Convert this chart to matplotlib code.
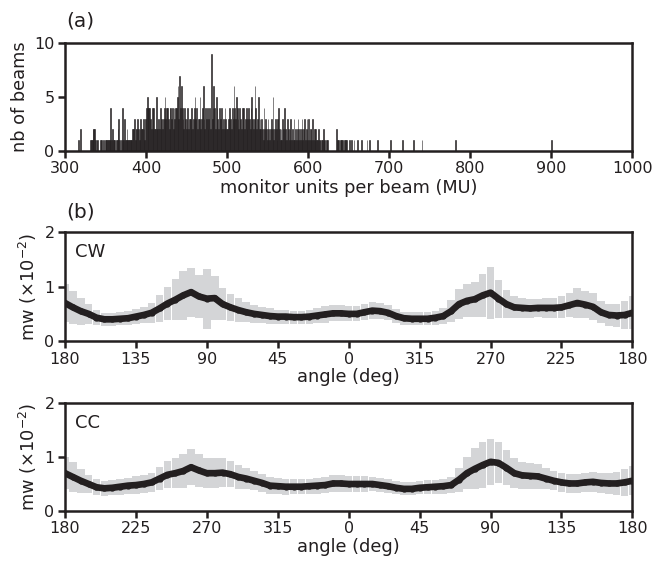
import numpy as np
import matplotlib.pyplot as plt

# histogram (a): counts per MU, one row per 10 MU starting at 310
mu_start = 310
mu_counts = [
    0, 0, 0, 0, 0, 0, 1, 0, 0, 2,   # 310
    0, 0, 0, 0, 0, 0, 0, 0, 0, 0,   # 320
    0, 1, 1, 1, 2, 2, 2, 1, 0, 1,   # 330
    1, 0, 0, 1, 0, 1, 0, 1, 0, 1,   # 340
    1, 1, 1, 1, 1, 1, 4, 1, 2, 1,   # 350
    1, 1, 0, 1, 1, 2, 3, 1, 0, 1,   # 360
    4, 1, 1, 3, 1, 1, 2, 1, 1, 1,   # 370
    1, 1, 1, 2, 2, 3, 1, 2, 2, 3,   # 380
    2, 1, 2, 3, 2, 2, 3, 2, 1, 3,   # 390
    4, 5, 4, 4, 4, 3, 2, 4, 2, 4,   # 400
    2, 2, 5, 2, 2, 3, 2, 4, 2, 3,   # 410
    2, 3, 4, 5, 3, 4, 4, 3, 2, 4,   # 420
    4, 3, 4, 2, 4, 3, 4, 4, 5, 6,   # 430
    3, 7, 4, 6, 4, 3, 2, 4, 3, 2,   # 440
    3, 4, 2, 3, 3, 2, 4, 2, 3, 4,   # 450
    5, 3, 4, 2, 3, 3, 5, 2, 3, 4,   # 460
    6, 3, 2, 4, 3, 4, 2, 3, 4, 2,   # 470
    9, 3, 4, 6, 4, 2, 5, 4, 3, 2,   # 480
    4, 3, 2, 4, 2, 3, 2, 4, 3, 2,   # 490
    2, 3, 4, 2, 3, 2, 4, 3, 6, 4,   # 500
    3, 5, 4, 3, 2, 4, 3, 2, 4, 3,   # 510
    4, 2, 3, 4, 2, 3, 4, 3, 2, 4,   # 520
    5, 3, 2, 3, 6, 4, 2, 3, 5, 2,   # 530
    3, 2, 3, 2, 1, 4, 2, 3, 2, 1,   # 540
    3, 2, 1, 2, 3, 2, 5, 1, 2, 3,   # 550
    2, 1, 3, 4, 2, 1, 2, 1, 3, 2,   # 560
    4, 1, 2, 1, 3, 2, 1, 2, 3, 1,   # 570
    2, 1, 3, 1, 2, 1, 2, 3, 1, 2,   # 580
    1, 2, 3, 1, 2, 3, 1, 2, 3, 1,   # 590
    3, 1, 2, 2, 1, 3, 1, 2, 1, 2,   # 600
    1, 1, 2, 1, 1, 0, 1, 1, 2, 1,   # 610
    1, 0, 1, 1, 0, 0, 0, 0, 0, 0,   # 620
    0, 0, 0, 0, 2, 0, 1, 1, 0, 1,   # 630
    1, 1, 1, 0, 1, 0, 1, 1, 0, 0,   # 640
    1, 0, 0, 1, 0, 0, 1, 0, 0, 0,   # 650
    1, 0, 0, 0, 0, 1, 0, 0, 0, 0,   # 660
    0, 0, 1, 0, 0, 1, 0, 0, 0, 0,   # 670
    0, 0, 0, 0, 0, 1, 0, 0, 0, 0,   # 680
]
outlier_mu = [701, 716, 729, 740, 781, 900]
outlier_counts = [1, 1, 1, 1, 1, 1]

# angle profiles, every 5 deg along the rotation (0..360)
pos = np.arange(0, 361, 5)
cw_mean = [0.70, 0.62, 0.55, 0.50, 0.43, 0.40, 0.40, 0.41, 0.42, 0.45,
           0.48, 0.52, 0.60, 0.69, 0.76, 0.84, 0.90, 0.82, 0.78, 0.79,
           0.68, 0.62, 0.57, 0.53, 0.50, 0.48, 0.46, 0.45, 0.45, 0.44,
           0.44, 0.45, 0.47, 0.49, 0.51, 0.51, 0.50, 0.50, 0.53, 0.56,
           0.55, 0.52, 0.46, 0.42, 0.41, 0.41, 0.41, 0.43, 0.46, 0.55,
           0.68, 0.74, 0.77, 0.84, 0.89, 0.78, 0.68, 0.62, 0.61, 0.60,
           0.61, 0.61, 0.61, 0.62, 0.66, 0.70, 0.67, 0.63, 0.53, 0.48,
           0.47, 0.48, 0.52]
cw_std = [0.35, 0.30, 0.25, 0.18, 0.14, 0.12, 0.12, 0.12, 0.13, 0.14,
          0.15, 0.18, 0.25, 0.30, 0.38, 0.45, 0.45, 0.40, 0.55, 0.40,
          0.30, 0.25, 0.22, 0.18, 0.17, 0.15, 0.14, 0.13, 0.13, 0.12,
          0.12, 0.13, 0.14, 0.15, 0.15, 0.15, 0.14, 0.14, 0.15, 0.16,
          0.15, 0.14, 0.13, 0.12, 0.12, 0.12, 0.12, 0.13, 0.15, 0.20,
          0.28, 0.30, 0.32, 0.40, 0.48, 0.35, 0.25, 0.20, 0.18, 0.17,
          0.17, 0.18, 0.18, 0.20, 0.22, 0.28, 0.25, 0.25, 0.20, 0.20,
          0.22, 0.25, 0.30]
cc_mean = [0.70, 0.63, 0.56, 0.50, 0.44, 0.42, 0.43, 0.45, 0.47, 0.48,
           0.50, 0.53, 0.60, 0.67, 0.70, 0.74, 0.81, 0.75, 0.70, 0.70,
           0.71, 0.68, 0.63, 0.60, 0.56, 0.52, 0.47, 0.46, 0.45, 0.45,
           0.45, 0.46, 0.47, 0.48, 0.51, 0.51, 0.50, 0.50, 0.50, 0.50,
           0.48, 0.46, 0.43, 0.41, 0.41, 0.43, 0.44, 0.45, 0.46, 0.48,
           0.58, 0.70, 0.78, 0.85, 0.91, 0.89, 0.80, 0.70, 0.66, 0.65,
           0.64, 0.60, 0.56, 0.53, 0.51, 0.51, 0.53, 0.54, 0.52, 0.51,
           0.51, 0.53, 0.56]
cc_std = [0.30, 0.27, 0.22, 0.17, 0.15, 0.14, 0.14, 0.15, 0.15, 0.16,
          0.17, 0.18, 0.22, 0.25, 0.28, 0.32, 0.33, 0.30, 0.28, 0.28,
          0.27, 0.24, 0.22, 0.20, 0.18, 0.17, 0.16, 0.15, 0.15, 0.14,
          0.14, 0.14, 0.15, 0.15, 0.15, 0.15, 0.14, 0.14, 0.14, 0.13,
          0.13, 0.13, 0.12, 0.12, 0.12, 0.12, 0.13, 0.13, 0.14, 0.15,
          0.22, 0.30, 0.38, 0.42, 0.42, 0.38, 0.32, 0.28, 0.25, 0.24,
          0.23, 0.20, 0.18, 0.17, 0.17, 0.17, 0.18, 0.18, 0.18, 0.20,
          0.22, 0.25, 0.27]

tick_pos = [0, 45, 90, 135, 180, 225, 270, 315, 360]
cw_labels = ['180', '135', '90', '45', '0', '315', '270', '225', '180']
cc_labels = ['180', '225', '270', '315', '0', '45', '90', '135', '180']

ink = '#231f20'
band = '#d4d5d7'

plt.rcParams['font.family'] = 'DejaVu Sans'
plt.rcParams['text.color'] = ink
plt.rcParams['axes.labelcolor'] = ink
plt.rcParams['xtick.color'] = ink
plt.rcParams['ytick.color'] = ink
plt.rcParams['axes.edgecolor'] = ink

fig = plt.figure(figsize=(6.53, 5.61), dpi=100)
ax_a = fig.add_axes([0.0995, 0.731, 0.869, 0.192])
ax_cw = fig.add_axes([0.0995, 0.392, 0.869, 0.194])
ax_cc = fig.add_axes([0.0995, 0.089, 0.869, 0.193])


def style(ax):
    for s in ax.spines.values():
        s.set_linewidth(1.8)
    ax.tick_params(axis='both', which='both', direction='out', length=5,
                   width=1.8, labelsize=11.5, top=False, right=False, pad=2.5)


# (a) histogram
mu = mu_start + np.arange(len(mu_counts))
ax_a.bar(mu, mu_counts, width=1.0, align='edge', color=ink,
         edgecolor=ink, linewidth=0.4)
ax_a.bar(outlier_mu, outlier_counts, width=1.0, align='edge', color=ink,
         edgecolor=ink, linewidth=0.4)
ax_a.set_xlim(300, 1000)
ax_a.set_ylim(0, 10)
ax_a.set_yticks([0, 5, 10])
ax_a.set_xticks(np.arange(300, 1001, 100))
ax_a.set_xlabel('monitor units per beam (MU)', fontsize=12.8, labelpad=2)
ax_a.set_ylabel('nb of beams', fontsize=12.8)
style(ax_a)
fig.text(0.101, 0.953, '(a)', fontsize=14.5)

# (b) angle profiles
for ax, m, sd, labels, name in [(ax_cw, cw_mean, cw_std, cw_labels, 'CW'),
                                (ax_cc, cc_mean, cc_std, cc_labels, 'CC')]:
    m = np.array(m)
    sd = np.array(sd)
    ax.bar(pos, 2 * sd, bottom=m - sd, width=4.8, color=band, linewidth=0)
    ax.plot(pos, m, '-o', color=ink, lw=4.8, ms=3.5)
    ax.set_xlim(0, 360)
    ax.set_ylim(0, 2)
    ax.set_yticks([0, 1, 2])
    ax.set_xticks(tick_pos)
    ax.set_xticklabels(labels)
    ax.set_xlabel('angle (deg)', fontsize=12.8, labelpad=1)
    ax.set_ylabel('mw (×10$^{-2}$)', fontsize=12.8)
    ax.text(0.017, 0.9, name, transform=ax.transAxes, fontsize=13,
            va='top', ha='left')
    style(ax)

fig.text(0.101, 0.612, '(b)', fontsize=14.5)

fig.savefig('out.png', dpi=100)
